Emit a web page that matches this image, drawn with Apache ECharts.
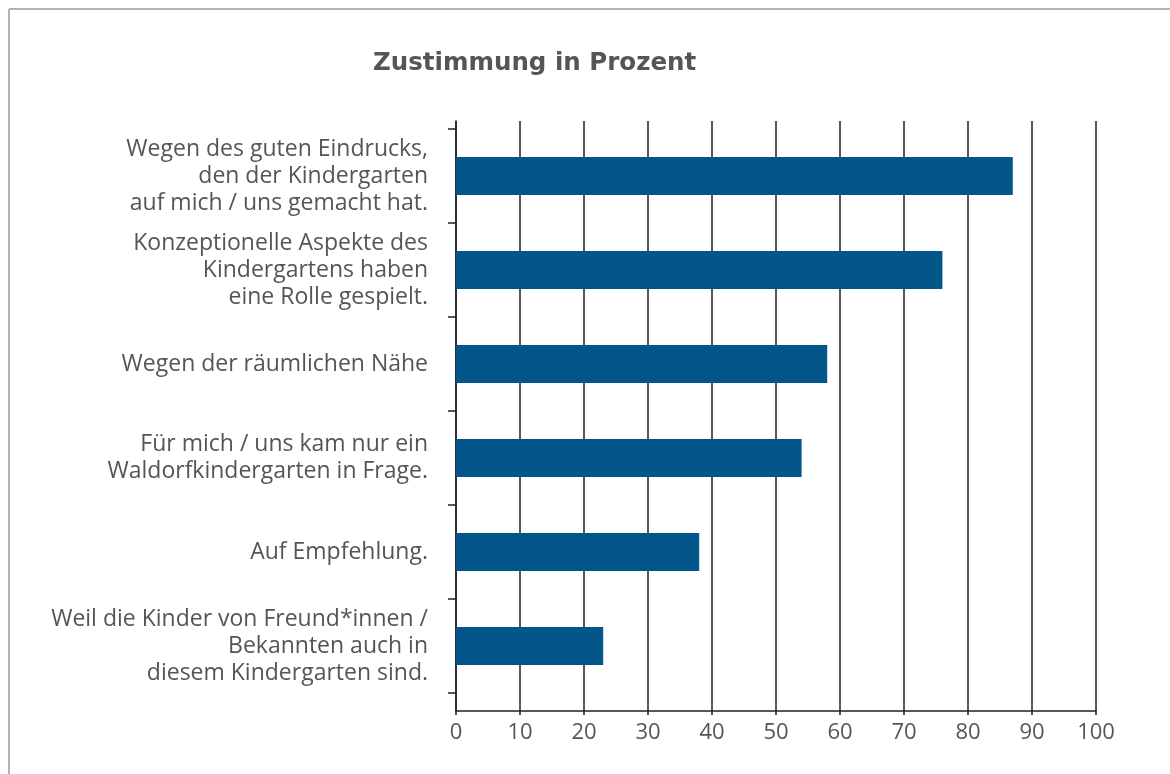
<!DOCTYPE html>
<html lang="de">
<head>
    <meta charset="UTF-8">
    <title>Zustimmung in Prozent</title>
    <script src="https://cdn.jsdelivr.net/npm/echarts@6/dist/echarts.min.js"></script>
    <style>
        html, body { margin: 0; padding: 0; background: #fff; }
        #main { width: 1170px; height: 774px; }
    </style>
</head>
<body>
<div id="main"></div>
<script>
    // Gründe (von oben nach unten)
    var categories = [
        'Wegen des guten Eindrucks,\nden der Kindergarten\nauf mich / uns gemacht hat.',
        'Konzeptionelle Aspekte des\nKindergartens haben\neine Rolle gespielt.',
        'Wegen der räumlichen Nähe',
        'Für mich / uns kam nur ein\nWaldorfkindergarten in Frage.',
        'Auf Empfehlung.',
        'Weil die Kinder von Freund*innen /\nBekannten auch in\ndiesem Kindergarten sind.'
    ];
    // Zustimmung in %
    var values = [87, 76, 58, 54, 38, 23];
    var xTicks = [0, 10, 20, 30, 40, 50, 60, 70, 80, 90, 100];

    var textColor = '#555';
    var font = 'Open Sans';

    var myChart = echarts.init(document.getElementById('main'));

    var option = {
        backgroundColor: '#fff',
        animation: false,
        title: {
            text: 'Zustimmung in Prozent',
            left: 368,
            top: 46,
            textStyle: { fontFamily: 'DejaVu Sans', fontSize: 24.5, fontWeight: 'bold', color: textColor }
        },
        graphic: [
            { type: 'line', shape: { x1: 9, y1: 9, x2: 1170, y2: 9 }, style: { stroke: '#b3b3b3', lineWidth: 2 } },
            { type: 'line', shape: { x1: 9, y1: 9, x2: 9, y2: 774 }, style: { stroke: '#b3b3b3', lineWidth: 2 } }
        ],
        grid: [
            // Rahmen mit Gitterlinien
            { left: 456, right: 74, top: 121, bottom: 63 },
            // Balkenbereich
            { left: 456, right: 74, top: 129, height: 564 }
        ],
        xAxis: [
            {
                gridIndex: 0,
                type: 'value',
                min: xTicks[0],
                max: xTicks[xTicks.length - 1],
                interval: 10,
                axisLine: { show: true, lineStyle: { color: '#222', width: 1.5 } },
                axisTick: { show: true, length: 4, lineStyle: { color: '#222', width: 1.5 } },
                axisLabel: { margin: 11, fontFamily: font, fontSize: 22, color: textColor },
                splitLine: { show: true, lineStyle: { color: '#222', width: 1.5 } }
            },
            {
                gridIndex: 1,
                type: 'value',
                min: xTicks[0],
                max: xTicks[xTicks.length - 1],
                show: false
            }
        ],
        yAxis: [
            {
                gridIndex: 0,
                type: 'value',
                min: 0,
                max: 1,
                axisLine: { show: true, lineStyle: { color: '#222', width: 1.5 } },
                axisTick: { show: false },
                axisLabel: { show: false },
                splitLine: { show: false }
            },
            {
                gridIndex: 1,
                type: 'category',
                inverse: true,
                data: categories,
                axisLine: { show: false },
                axisTick: { show: true, length: 8, lineStyle: { color: '#222', width: 1.5 } },
                axisLabel: {
                    margin: 28,
                    fontFamily: font,
                    fontSize: 23,
                    lineHeight: 27,
                    color: textColor,
                    align: 'right'
                }
            }
        ],
        series: [
            {
                name: 'Zustimmung',
                type: 'bar',
                xAxisIndex: 1,
                yAxisIndex: 1,
                data: values,
                barWidth: 38,
                itemStyle: { color: '#03568A' }
            }
        ]
    };

    myChart.setOption(option);
</script>
</body>
</html>
